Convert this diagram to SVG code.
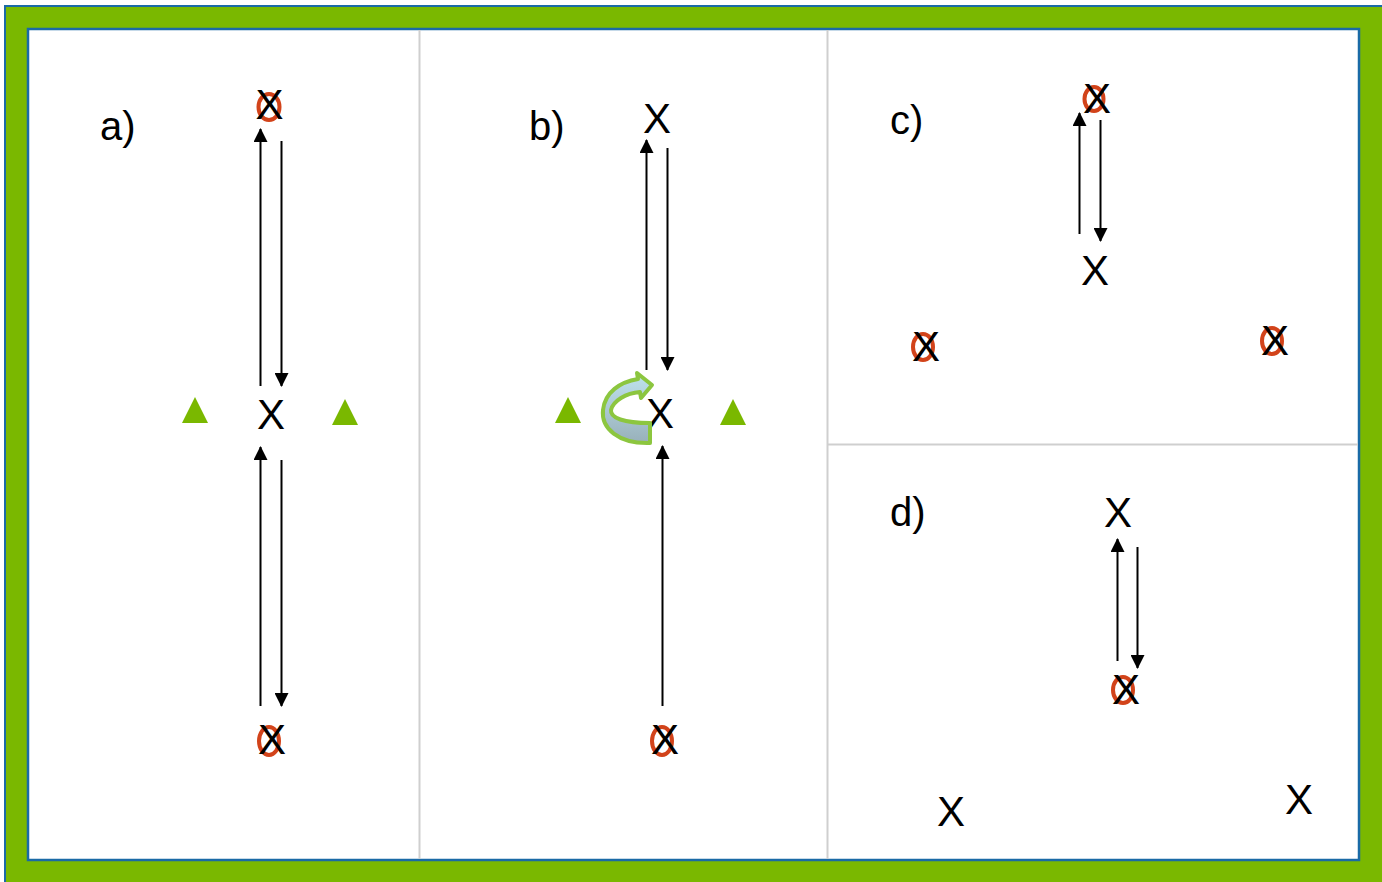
<svg xmlns="http://www.w3.org/2000/svg" width="1382" height="882" viewBox="0 0 1382 882">
<defs>
<style>
.x{font-family:"Liberation Sans",Arial,sans-serif;font-size:42px;fill:#000;text-anchor:middle}
.lbl{font-family:"Liberation Sans",Arial,sans-serif;font-size:40px;fill:#000}
.o{fill:none;stroke:#d2431a;stroke-width:4}
.ln{stroke:#000;stroke-width:2;fill:none}
.tri{fill:#7ab800}
.div{stroke:#cfcfcf;stroke-width:2}
</style>
<marker id="ah" viewBox="0 0 14 14" refX="13" refY="7" markerWidth="14" markerHeight="14" markerUnits="userSpaceOnUse" orient="auto">
<path d="M0,0 L14,7 L0,14 Z" fill="#000"/>
</marker>
<linearGradient id="cg" x1="0" y1="0" x2="0" y2="1">
<stop offset="0" stop-color="#bfe3ee"/>
<stop offset="1" stop-color="#98b0ba"/>
</linearGradient>
</defs>
<rect x="0" y="0" width="1382" height="882" fill="#fff"/>
<rect x="5" y="6" width="1378" height="878" fill="#7ab800" stroke="#1a6aa6" stroke-width="2"/>
<rect x="28" y="29" width="1331" height="831" fill="#fff" stroke="#1a6aa6" stroke-width="2.5"/>
<g id="dividers">
<line class="div" x1="419.5" y1="30" x2="419.5" y2="859"/>
<line class="div" x1="827.5" y1="30" x2="827.5" y2="859"/>
<line class="div" x1="828" y1="444.5" x2="1358" y2="444.5"/>
</g>
<g id="connectors">
<line class="ln" x1="260.5" y1="386" x2="260.5" y2="129" marker-end="url(#ah)"/>
<line class="ln" x1="281.5" y1="141" x2="281.5" y2="386" marker-end="url(#ah)"/>
<line class="ln" x1="260.5" y1="706" x2="260.5" y2="447" marker-end="url(#ah)"/>
<line class="ln" x1="281.5" y1="460" x2="281.5" y2="706" marker-end="url(#ah)"/>
<line class="ln" x1="646.5" y1="370" x2="646.5" y2="140" marker-end="url(#ah)"/>
<line class="ln" x1="667.5" y1="148" x2="667.5" y2="370" marker-end="url(#ah)"/>
<line class="ln" x1="662.5" y1="706" x2="662.5" y2="446" marker-end="url(#ah)"/>
<line class="ln" x1="1079.5" y1="234" x2="1079.5" y2="113" marker-end="url(#ah)"/>
<line class="ln" x1="1100.5" y1="120" x2="1100.5" y2="241" marker-end="url(#ah)"/>
<line class="ln" x1="1117.5" y1="661" x2="1117.5" y2="539" marker-end="url(#ah)"/>
<line class="ln" x1="1137.5" y1="547" x2="1137.5" y2="668" marker-end="url(#ah)"/>
</g>
<g id="panel-a">
<text class="lbl" x="100" y="140">a)</text>
<g id="a-top"><ellipse class="o" cx="269" cy="107" rx="10.5" ry="13"/><text class="x" x="269.5" y="119">X</text></g>
<g id="a-center"><text class="x" x="271" y="429">X</text></g>
<g id="a-bottom"><ellipse class="o" cx="269" cy="741" rx="10" ry="14"/><text class="x" x="272" y="754">X</text></g>
<polygon id="a-tri-left" class="tri" points="182,423 195,397 208,423"/>
<polygon id="a-tri-right" class="tri" points="332,425 345,399 358,425"/>
</g>
<g id="panel-b">
<text class="lbl" x="529" y="140">b)</text>
<g id="b-top"><text class="x" x="657" y="133">X</text></g>
<g id="b-center"><text class="x" x="660" y="428">X</text></g>
<g id="b-bottom"><ellipse class="o" cx="662" cy="741" rx="10" ry="14"/><text class="x" x="665" y="754">X</text></g>
<polygon id="b-tri-left" class="tri" points="555,423 568,397 581,423"/>
<polygon id="b-tri-right" class="tri" points="720,425 733,399 746,425"/>
<path id="b-turn" d="M650,443 C618,444 601,428 603,410 C605,392 620,382 638,379 L637,373 L652,385 L641,398 L640,392 C626,393 613,401 611,410 C610,418 624,423 650,423 Z" fill="url(#cg)" stroke="#8cc63f" stroke-width="4" stroke-linejoin="round"/>
</g>
<g id="panel-c">
<text class="lbl" x="890" y="134">c)</text>
<g id="c-top"><ellipse class="o" cx="1094" cy="99" rx="9.5" ry="12"/><text class="x" x="1097" y="113">X</text></g>
<g id="c-center"><text class="x" x="1095" y="285">X</text></g>
<g id="c-left"><ellipse class="o" cx="923" cy="347" rx="10" ry="13"/><text class="x" x="926" y="361">X</text></g>
<g id="c-right"><ellipse class="o" cx="1272" cy="341" rx="10" ry="13"/><text class="x" x="1275" y="355">X</text></g>
</g>
<g id="panel-d">
<text class="lbl" x="890" y="526">d)</text>
<g id="d-top"><text class="x" x="1118" y="527">X</text></g>
<g id="d-center"><ellipse class="o" cx="1123" cy="690" rx="10" ry="13"/><text class="x" x="1126" y="704">X</text></g>
<g id="d-left"><text class="x" x="951" y="826">X</text></g>
<g id="d-right"><text class="x" x="1299" y="814">X</text></g>
</g>
</svg>
